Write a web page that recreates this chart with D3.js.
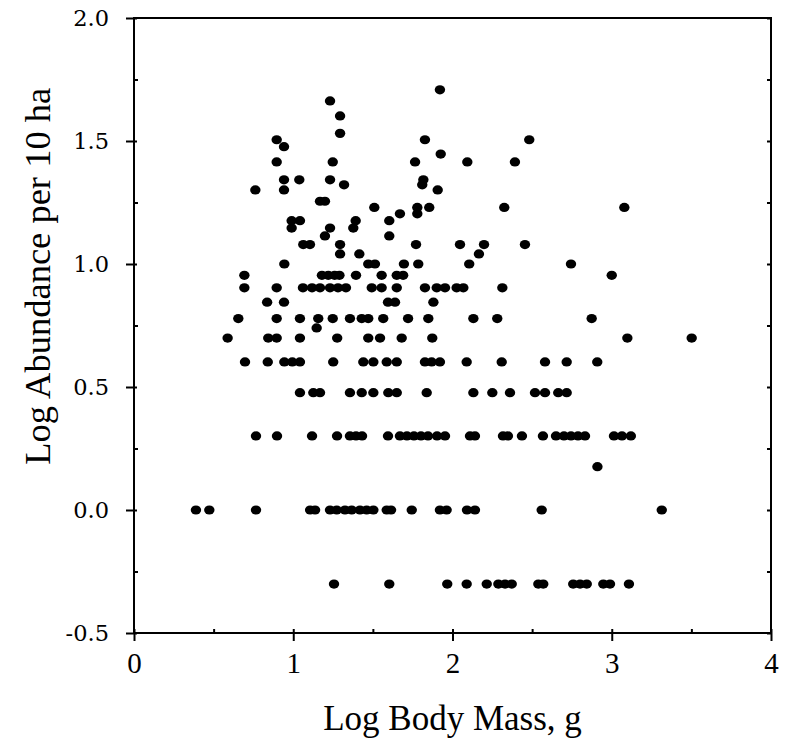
<!DOCTYPE html>
<html>
<head>
<meta charset="utf-8">
<script src="https://cdn.jsdelivr.net/npm/d3@7"></script>
<style>
  body { margin: 0; background: #fff; }
  .axis path, .axis line { stroke: #000; stroke-width: 2; }
  .axis text { fill: #000; }
  .ytick text { font-family: "DejaVu Serif", serif; font-size: 22.5px; }
  .xtick text { font-family: "Liberation Serif", serif; font-size: 29px; }
  .title { font-family: "Liberation Serif", serif; font-size: 35px; fill: #000; }
</style>
</head>
<body>
<svg id="scatter" width="787" height="740"></svg>
<script>
  // tick values
  let xTicks = [0, 1, 2, 3, 4];
  let yTicks = [-0.5, 0.0, 0.5, 1.0, 1.5, 2.0];
  let xMinor = [0.5, 1.5, 2.5, 3.5];
  let yMinor = [-0.25, 0.25, 0.75, 1.25, 1.75];

  // each row = one abundance level (log10 of counts), with the body masses found there
  let logAbundance = [-0.301, 0, 0.176, 0.301, 0.477, 0.602, 0.699, 0.74, 0.778, 0.845, 0.903, 0.954,
    1.0, 1.041, 1.079, 1.114, 1.146, 1.176, 1.204, 1.23, 1.255, 1.301, 1.322, 1.342, 1.415,
    1.447, 1.477, 1.505, 1.531, 1.602, 1.663, 1.708];
  let logMass = [
    [1.256, 1.603, 1.967, 2.089, 2.215, 2.288, 2.33, 2.372, 2.539, 2.57, 2.758, 2.801, 2.843, 2.947, 2.989, 3.108],
    [0.389, 0.473, 0.766, 1.106, 1.137, 1.231, 1.273, 1.325, 1.367, 1.419, 1.461, 1.503, 1.587, 1.614, 1.744, 1.921, 1.963, 2.091, 2.141, 2.56, 3.314],
    [2.91],
    [0.766, 0.898, 1.118, 1.275, 1.356, 1.394, 1.432, 1.595, 1.67, 1.714, 1.758, 1.802, 1.846, 1.903, 1.953, 2.11, 2.141, 2.317, 2.348, 2.436, 2.568, 2.65, 2.70, 2.744, 2.788, 2.832, 3.014, 3.064, 3.12],
    [1.042, 1.126, 1.168, 1.356, 1.43, 1.503, 1.597, 1.65, 1.838, 2.131, 2.25, 2.361, 2.518, 2.581, 2.664, 2.717],
    [0.697, 0.84, 0.944, 0.994, 1.042, 1.251, 1.44, 1.503, 1.587, 1.65, 1.827, 1.869, 1.921, 2.089, 2.309, 2.581, 2.717, 2.909],
    [0.588, 0.843, 0.896, 1.042, 1.276, 1.471, 1.545, 1.681, 1.873, 3.098, 3.502],
    [1.147],
    [0.655, 0.896, 1.042, 1.157, 1.248, 1.356, 1.43, 1.471, 1.565, 1.721, 1.848, 2.131, 2.281, 2.874],
    [0.836, 0.942, 1.595, 1.639, 1.88],
    [0.693, 0.896, 1.061, 1.118, 1.168, 1.231, 1.281, 1.331, 1.493, 1.555, 1.65, 1.827, 1.901, 1.953, 2.026, 2.068, 2.313],
    [0.693, 1.18, 1.22, 1.26, 1.29, 1.394, 1.555, 1.65, 1.69, 3.0],
    [0.944, 1.471, 1.513, 1.695, 1.785, 2.105, 2.744],
    [1.294, 1.415, 2.166],
    [1.063, 1.105, 1.294, 1.771, 2.047, 2.198, 2.455],
    [1.199, 1.603],
    [0.99, 1.231, 1.377],
    [0.99, 1.042, 1.392, 1.603],
    [1.67, 1.779],
    [1.509, 1.779, 1.854, 2.325, 3.079],
    [1.168, 1.199],
    [0.762, 0.942, 1.907],
    [1.319, 1.81],
    [0.942, 1.038, 1.231, 1.817],
    [0.896, 1.248, 1.765, 2.093, 2.392],
    [1.926],
    [0.942],
    [0.896, 1.827, 2.482],
    [1.294],
    [1.294],
    [1.231],
    [1.921]
  ];

  let svg = d3.select("svg#scatter");
  let margin = { top: 18, right: 16, bottom: 107, left: 134 };
  let width = +svg.attr("width");
  let height = +svg.attr("height");

  let xScale = d3.scaleLinear().domain([0, 4]).range([margin.left, width - margin.right]);
  let yScale = d3.scaleLinear().domain([-0.5, 2]).range([height - margin.bottom, margin.top]);

  // flatten rows into points
  let points = [];
  logAbundance.forEach((a, i) => {
    logMass[i].forEach(m => points.push({ mass: m, abund: a }));
  });

  // frame
  svg.append("rect")
    .attr("x", xScale(0)).attr("y", yScale(2))
    .attr("width", xScale(4) - xScale(0))
    .attr("height", yScale(-0.5) - yScale(2))
    .attr("fill", "none").attr("stroke", "#000").attr("stroke-width", 2);

  // plain hyphen for negatives, like the original
  let yFormat = d => d.toFixed(1);

  // left axis: major ticks cross the line, minor ticks inside
  let left = svg.append("g").attr("class", "axis ytick")
    .attr("transform", "translate(" + xScale(0) + ",0)")
    .call(d3.axisLeft(yScale).tickValues(yTicks).tickFormat(yFormat).tickSize(8).tickPadding(17));
  left.select(".domain").remove();
  left.selectAll(".tick line").attr("x2", -8).attr("x1", 3);
  svg.append("g").attr("class", "axis")
    .attr("transform", "translate(" + xScale(0) + ",0)")
    .call(d3.axisRight(yScale).tickValues(yMinor).tickSize(4).tickFormat(""))
    .select(".domain").remove();
  // right side ticks pointing in
  svg.append("g").attr("class", "axis")
    .attr("transform", "translate(" + xScale(4) + ",0)")
    .call(d3.axisLeft(yScale).tickValues(yMinor.concat(yTicks)).tickSize(4).tickFormat(""))
    .select(".domain").remove();

  // bottom axis
  let bottom = svg.append("g").attr("class", "axis xtick")
    .attr("transform", "translate(0," + yScale(-0.5) + ")")
    .call(d3.axisBottom(xScale).tickValues(xTicks).tickFormat(d3.format("d")).tickSize(8).tickPadding(11));
  bottom.select(".domain").remove();
  bottom.selectAll(".tick line").attr("y1", -4);
  svg.append("g").attr("class", "axis")
    .attr("transform", "translate(0," + yScale(-0.5) + ")")
    .call(d3.axisTop(xScale).tickValues(xMinor).tickSize(4).tickFormat(""))
    .select(".domain").remove();

  // axis titles
  svg.append("text").attr("class", "title")
    .attr("x", (xScale(0) + xScale(4)) / 2).attr("y", 730)
    .attr("text-anchor", "middle")
    .text("Log Body Mass, g");
  svg.append("text").attr("class", "title")
    .attr("transform", "translate(50," + yScale(0.95) + ") rotate(-90)")
    .attr("text-anchor", "middle")
    .style("font-size", "36.5px")
    .text("Log Abundance per 10 ha");

  // points
  svg.append("g").selectAll("ellipse")
    .data(points)
    .join("ellipse")
    .attr("cx", d => xScale(d.mass))
    .attr("cy", d => yScale(d.abund))
    .attr("rx", 5.2)
    .attr("ry", 4.6)
    .attr("fill", "#000");
</script>
</body>
</html>
